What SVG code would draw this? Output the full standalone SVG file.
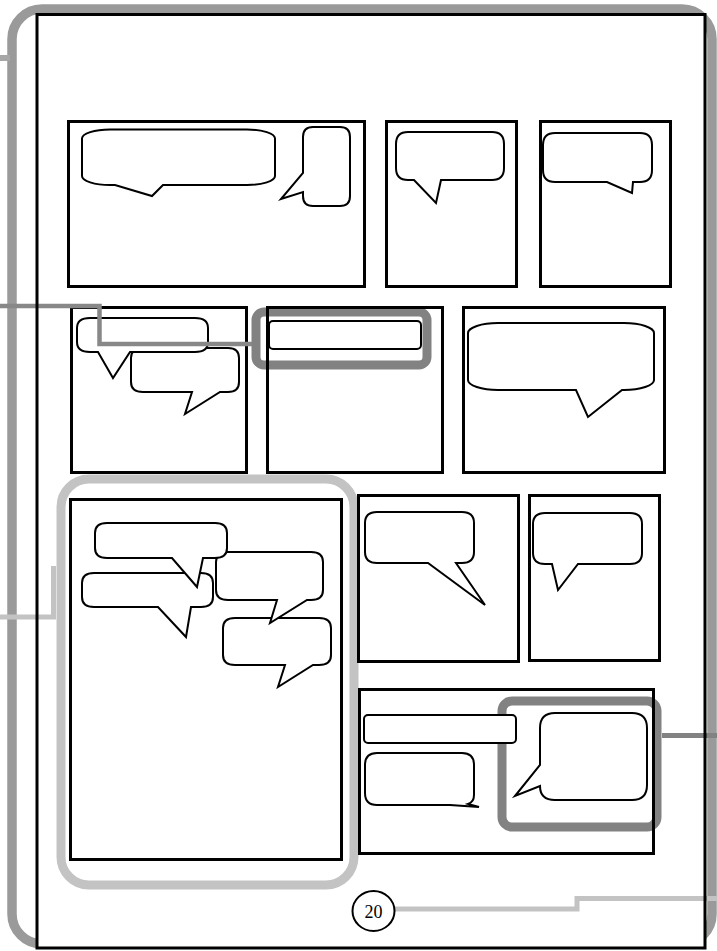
<svg xmlns="http://www.w3.org/2000/svg" width="717" height="951" viewBox="0 0 717 951">
<style>
.panel{fill:none;stroke:#000;stroke-width:3}
.bub{fill:#fff;stroke:#000;stroke-width:2;stroke-linejoin:miter}
.hl-dark{fill:none;stroke:#828282;stroke-width:9}
.hl-light{fill:none;stroke:#c3c3c3;stroke-width:9}
.conn{fill:none;stroke-linejoin:miter}
</style>
<rect width="717" height="951" fill="#fff"/>
<g id="page-border">
<rect x="12" y="9" width="700" height="935" rx="30" fill="none" stroke="#9a9a9a" stroke-width="9.5"/>
<rect x="37" y="14.5" width="668" height="933.5" fill="#fff"/>
</g>
<g id="highlight-gutter"><rect class="hl-light" x="61" y="479" width="293" height="406" rx="28"/></g>
<g id="highlight-caption"><rect class="hl-dark" x="256" y="312" width="171" height="53" rx="8"/></g>
<g id="highlight-balloon"><rect class="hl-dark" x="502" y="701" width="155" height="126" rx="10"/></g>

<g id="panel-1">
<rect class="panel" x="68.5" y="121.5" width="296" height="165"/>
<path class="bub" d="M110,129.5 H247 A28,9 0 0 1 275,138.5 V176 A28,9 0 0 1 247,185 H163 L152,196 L115,185 H110 A28,9 0 0 1 82,176 V138.5 A28,9 0 0 1 110,129.5 Z"/>
<path class="bub" d="M313,127 H340 Q350,127 350,137 V196 Q350,206 340,206 H313 Q303,206 303,196 V192 L281,199 L303,173 V137 Q303,127 313,127 Z"/>
</g>
<g id="panel-2">
<rect class="panel" x="386.5" y="121.5" width="130" height="165"/>
<path class="bub" d="M408,132 H492 Q504,132 504,144 V168 Q504,180 492,180 H441 L436,203 L414,180 H408 Q396,180 396,168 V144 Q396,132 408,132 Z"/>
</g>
<g id="panel-3">
<rect class="panel" x="540.5" y="121.5" width="130" height="165"/>
<path class="bub" d="M555,133 H640 Q652,133 652,145 V170 Q652,182 640,182 H633 L632,193 L607,182 H555 Q543,182 543,170 V145 Q543,133 555,133 Z"/>
</g>
<g id="panel-4">
<rect class="panel" x="71.5" y="307.5" width="175" height="165"/>
<path class="bub" d="M143,348 H228 Q239,348 239,358 V382 Q239,392 228,392 H220 L185,414 L192,392 H143 Q131,392 131,382 V358 Q131,348 143,348 Z"/>
<path class="bub" d="M90,318 H195 Q208,318 208,328 V342 Q208,352 195,352 H130 L113,378 L98,352 H90 Q77,352 77,342 V328 Q77,318 90,318 Z"/>
</g>
<g id="panel-5">
<rect class="panel" x="267.5" y="307.5" width="175" height="165"/>
<rect class="bub" x="269" y="321" width="152" height="28" rx="4"/>
</g>
<g id="panel-6">
<rect class="panel" x="463.5" y="307.5" width="201" height="165"/>
<path class="bub" d="M498,323 H624 A30,10 0 0 1 654,333 V380 A30,10 0 0 1 624,390 H622 L588,417 L576,390 H498 A30,10 0 0 1 468,380 V333 A30,10 0 0 1 498,323 Z"/>
</g>
<g id="panel-7">
<rect class="panel" x="70.5" y="499.5" width="271" height="360"/>
<path class="bub" d="M235,618 H319 Q331,618 331,628 V655 Q331,665 319,665 H313 L278,687 L285,665 H235 Q223,665 223,655 V628 Q223,618 235,618 Z"/>
<path class="bub" d="M228,552 H311 Q323,552 323,562 V590 Q323,600 311,600 H307 L270,623 L277,600 H228 Q216,600 216,590 V562 Q216,552 228,552 Z"/>
<path class="bub" d="M94,573 H201 Q213,573 213,583 V597 Q213,607 201,607 H191 L186,637 L158,607 H94 Q82,607 82,597 V583 Q82,573 94,573 Z"/>
<path class="bub" d="M107,523 H215 Q227,523 227,533 V548 Q227,558 215,558 H203 L197,587 L172,558 H107 Q95,558 95,548 V533 Q95,523 107,523 Z"/>
</g>
<g id="panel-8">
<rect class="panel" x="358.5" y="495.5" width="160" height="166"/>
<path class="bub" d="M377,512 H462 Q474,512 474,523 V552 Q474,563 462,563 H456 L485,605 L428,563 H377 Q365,563 365,552 V523 Q365,512 377,512 Z"/>
</g>
<g id="panel-9">
<rect class="panel" x="529.5" y="495.5" width="130" height="165"/>
<path class="bub" d="M545,513 H630 Q642,513 642,524 V553 Q642,564 630,564 H578 L558,590 L552,564 H545 Q533,564 533,553 V524 Q533,513 545,513 Z"/>
</g>
<g id="panel-10">
<rect class="panel" x="359.5" y="689.5" width="294" height="164"/>
<rect class="bub" x="364" y="715" width="152" height="28" rx="4"/>
<path class="bub" d="M377,753 H462 Q474,753 474,765 V795 Q474,802 468,804 L479,807 L450,805 H377 Q365,805 365,793 V765 Q365,753 377,753 Z"/>
<path class="bub" d="M555,713 H632 Q647,713 647,728 V785 Q647,800 632,800 H555 Q540,800 540,786 L515,796 L540,765 V728 Q540,713 555,713 Z"/>
</g>

<g id="connectors">
<path class="conn" d="M0,58 H10" stroke="#a6a6a6" stroke-width="6"/>
<path class="conn" d="M0,306 H99.5 V344 H252" stroke="#888" stroke-width="4.5"/>
<path class="conn" d="M0,617 H53.5 V566" stroke="#c3c3c3" stroke-width="5"/>
<path class="conn" d="M662,735.5 H717" stroke="#828282" stroke-width="5"/>
<path class="conn" d="M394,909 H577 V898.5 H717" stroke="#c3c3c3" stroke-width="5"/>
</g>

<g id="page-frame"><rect x="37" y="14.5" width="668" height="933.5" fill="none" stroke="#000" stroke-width="3"/></g>

<g id="page-number">
<ellipse cx="373.5" cy="911" rx="21" ry="20" fill="#fff" stroke="#000" stroke-width="2"/>
<text x="373.5" y="917.5" font-family="Liberation Serif, serif" font-size="18" text-anchor="middle">20</text>
</g>
</svg>
